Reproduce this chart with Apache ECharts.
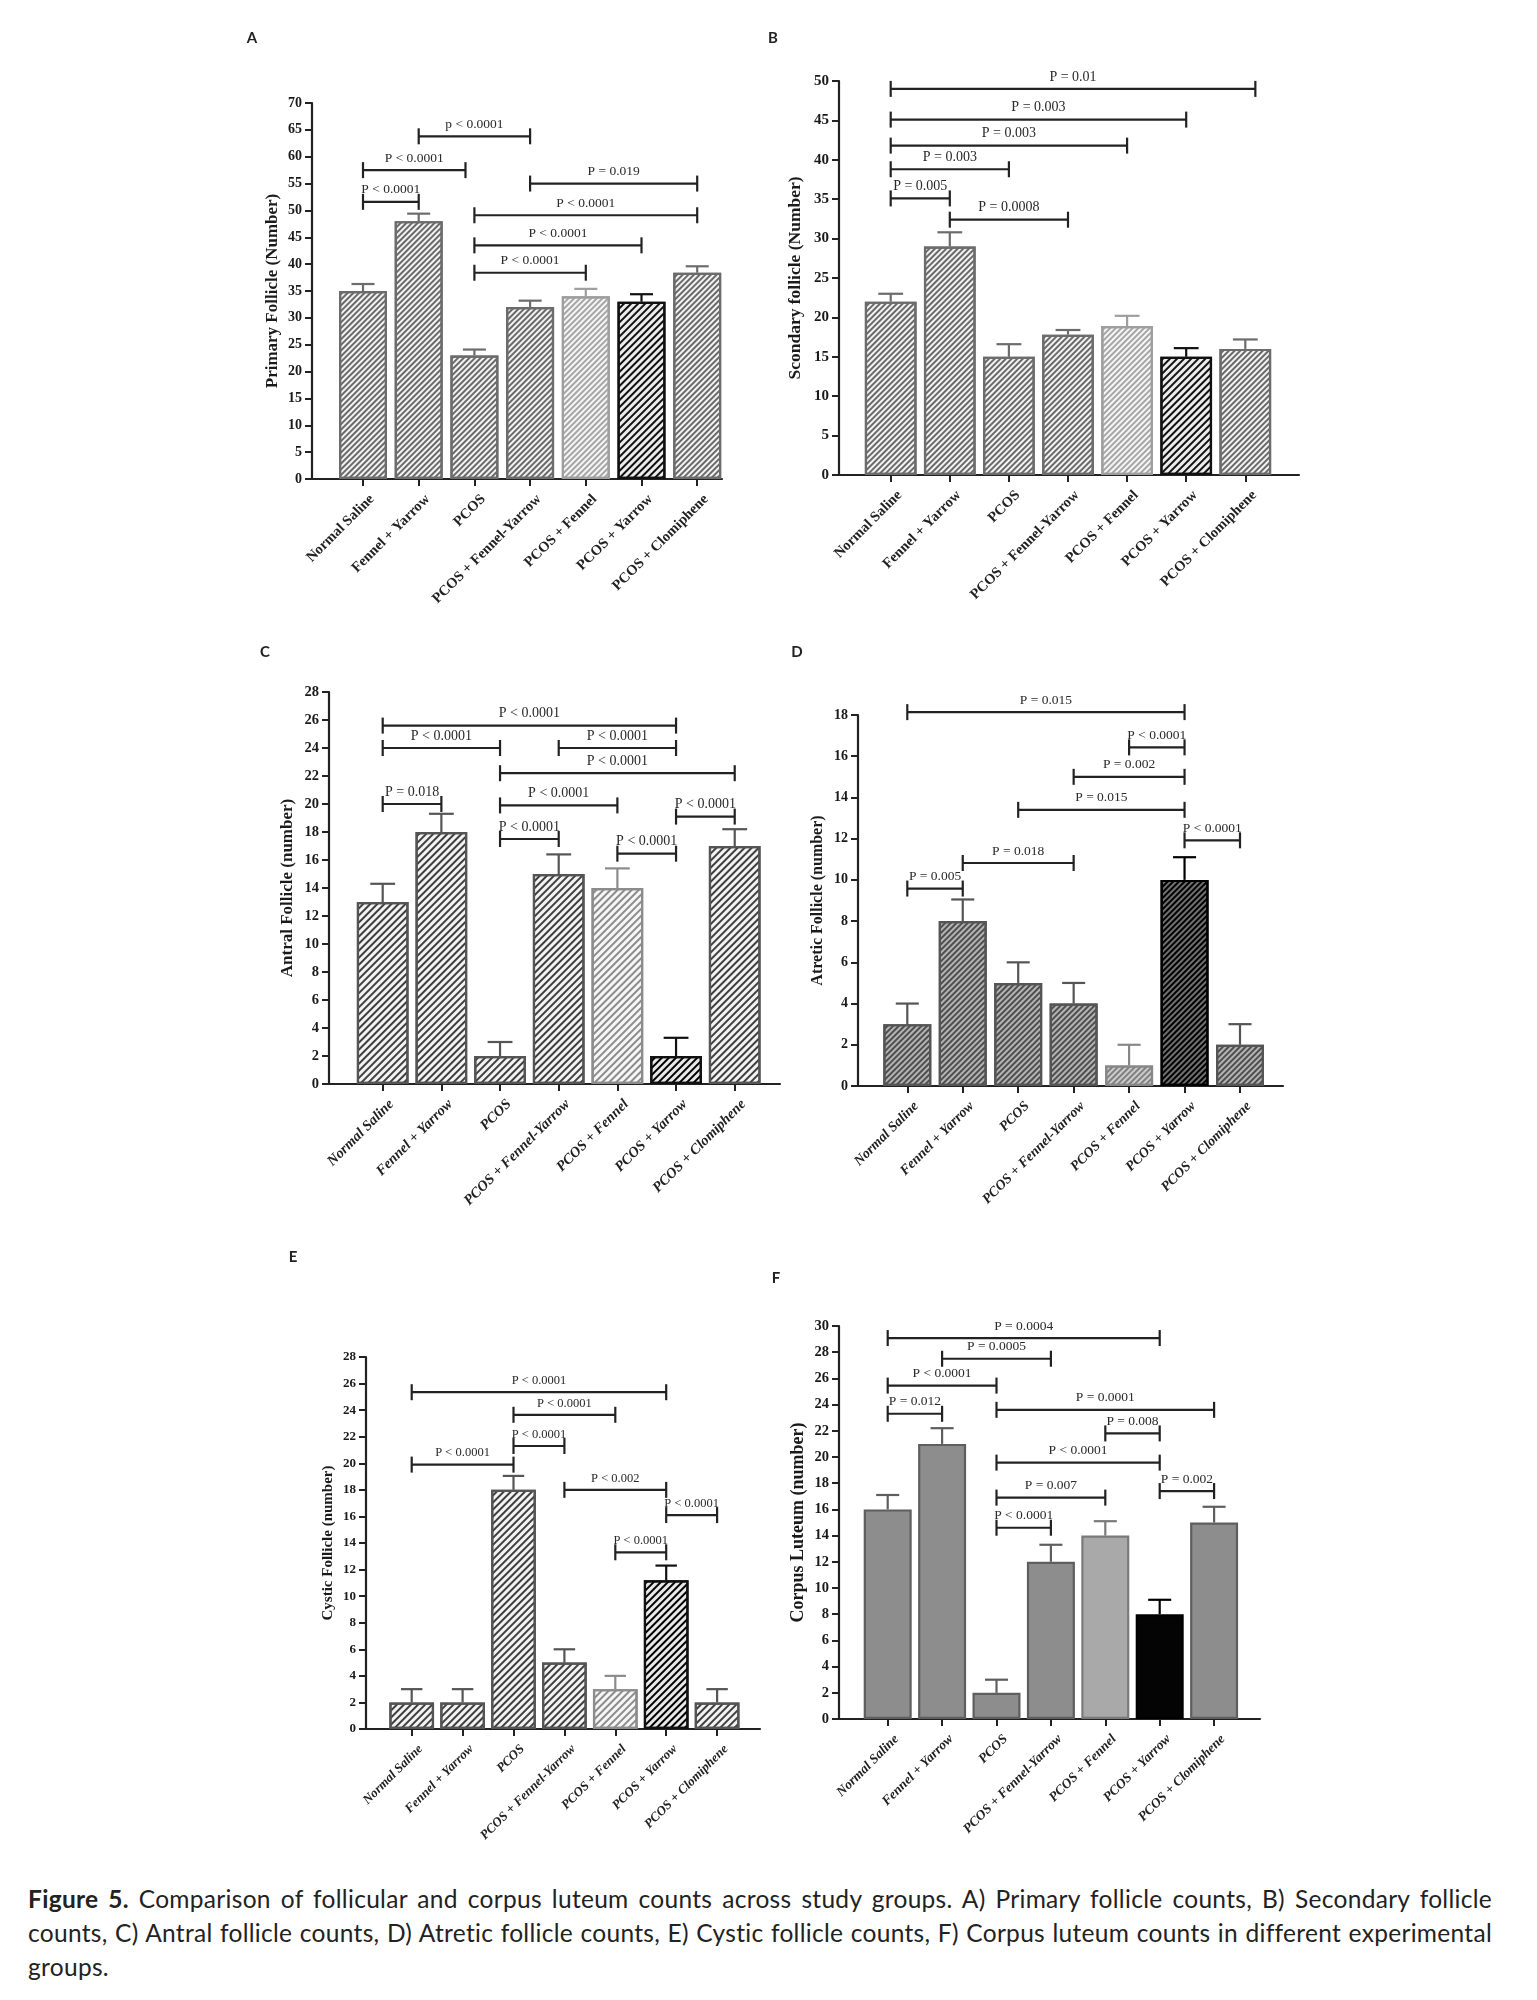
<!DOCTYPE html>
<html><head><meta charset="utf-8">
<script src="https://cdn.jsdelivr.net/npm/echarts@6/dist/echarts.min.js"></script>
<style>
html,body{margin:0;padding:0;background:#fff;}
#chart{position:absolute;left:0;top:0;width:1537px;height:1860px;}
#caption{position:absolute;left:28px;top:1882px;width:1464px;font-family:Lato,'Open Sans',sans-serif;font-size:24.5px;letter-spacing:0.3px;line-height:34px;color:#222;white-space:nowrap;}
#caption .j{display:block;text-align:justify;text-align-last:justify;}
</style></head><body>
<div id="chart"></div>
<div id="caption"><span class="j"><b>Figure 5.</b> Comparison of follicular and corpus luteum counts across study groups. A) Primary follicle counts, B) Secondary follicle</span><span class="j">counts, C) Antral follicle counts, D) Atretic follicle counts, E) Cystic follicle counts, F) Corpus luteum counts in different experimental</span><span>groups.</span></div>
<script>
// ---------------- DATA ----------------
const groups = ['Normal Saline', 'Fennel + Yarrow', 'PCOS', 'PCOS + Fennel-Yarrow', 'PCOS + Fennel', 'PCOS + Yarrow', 'PCOS + Clomiphene'];

const primaryMean = [35, 48, 23, 32, 34, 33, 38.4];
const primarySem  = [1.3, 1.4, 1.1, 1.2, 1.4, 1.4, 1.2];
const primaryBrackets = [[1, 3, 63.8, 'p < 0.0001'], [0, 1.84, 57.5, 'P < 0.0001'], [0, 1, 51.6, 'P < 0.0001'], [3, 6, 55, 'P = 0.019'], [2, 6, 49.1, 'P < 0.0001'], [2, 5, 43.5, 'P < 0.0001'], [2, 4, 38.4, 'P < 0.0001']];

const secondaryMean = [22, 29, 15, 17.8, 18.9, 15, 16];
const secondarySem  = [1.0, 1.8, 1.6, 0.6, 1.3, 1.1, 1.2];
const secondaryBrackets = [[0, 6.17, 49, 'P = 0.01'], [0, 5, 45.1, 'P = 0.003'], [0, 4, 41.8, 'P = 0.003'], [0, 2, 38.8, 'P = 0.003'], [0, 1, 35.1, 'P = 0.005'], [1, 3, 32.4, 'P = 0.0008']];

const antralMean = [13, 18, 2, 15, 14, 2, 17];
const antralSem  = [1.3, 1.3, 1.0, 1.4, 1.4, 1.3, 1.2];
const antralBrackets = [[0, 5, 25.6, 'P < 0.0001'], [0, 2, 24, 'P < 0.0001'], [3, 5, 24, 'P < 0.0001'], [2, 6, 22.2, 'P < 0.0001'], [0, 1, 20, 'P = 0.018'], [2, 4, 19.9, 'P < 0.0001'], [5, 6, 19.1, 'P < 0.0001'], [2, 3, 17.5, 'P < 0.0001'], [4, 5, 16.45, 'P < 0.0001']];

const atreticMean = [3, 8, 5, 4, 1, 10, 2];
const atreticSem  = [1, 1.05, 1, 1, 1, 1.1, 1];
const atreticBrackets = [[0, 5, 18.14, 'P = 0.015'], [4, 5, 16.43, 'P < 0.0001'], [3, 5, 15, 'P = 0.002'], [2, 5, 13.4, 'P = 0.015'], [5, 6, 11.92, 'P < 0.0001'], [1, 3, 10.82, 'P = 0.018'], [0, 1, 9.58, 'P = 0.005']];

const cysticMean = [2, 2, 18, 5, 3, 11.2, 2];
const cysticSem  = [1, 1, 1.05, 1, 1, 1.1, 1];
const cysticBrackets = [[0, 5, 25.35, 'P < 0.0001'], [2, 4, 23.65, 'P < 0.0001'], [2, 3, 21.3, 'P < 0.0001'], [0, 2, 19.9, 'P < 0.0001'], [3, 5, 18, 'P < 0.002'], [5, 6, 16.1, 'P < 0.0001'], [4, 5, 13.3, 'P < 0.0001']];

const luteumMean = [16, 21, 2, 12, 14, 8, 15];
const luteumSem  = [1.1, 1.2, 1.0, 1.3, 1.1, 1.1, 1.2];
const luteumBrackets = [[0, 5, 29.08, 'P = 0.0004'], [1, 3, 27.5, 'P = 0.0005'], [0, 2, 25.45, 'P < 0.0001'], [2, 6, 23.6, 'P = 0.0001'], [0, 1, 23.3, 'P = 0.012'], [4, 5, 21.8, 'P = 0.008'], [2, 5, 19.57, 'P < 0.0001'], [5, 6, 17.4, 'P = 0.002'], [2, 4, 16.9, 'P = 0.007'], [2, 3, 14.6, 'P < 0.0001']];

// ---------------- STYLES / LAYOUT ----------------
const SERIF = '"Liberation Serif","Times New Roman",serif';
const SANS = 'Lato,"Open Sans",sans-serif';
const barKinds = ['m', 'm', 'm', 'm', 'l', 'd', 'm'];

const palettes = {
  A: {m: {bg: '#f3f3f3', stripe: '#6a6a6a', border: '#6c6c6c', w: 1.1, g: 1.9}, l: {bg: '#f6f6f6', stripe: '#a6a6a6', border: '#9e9e9e', w: 1.1, g: 1.9}, d: {bg: '#ececec', stripe: '#111', border: '#111', w: 1.4, g: 2.2}},
  C: {m: {bg: '#f3f3f3', stripe: '#3f3f3f', border: '#555', w: 1.2, g: 2.2}, l: {bg: '#f6f6f6', stripe: '#8c8c8c', border: '#8c8c8c', w: 1.2, g: 2.2}, d: {bg: '#e8e8e8', stripe: '#000', border: '#111', w: 1.5, g: 2.2}},
  D: {m: {bg: '#b4b4b4', stripe: '#4e4e4e', border: '#555', w: 1.1, g: 1.6}, l: {bg: '#cccccc', stripe: '#808080', border: '#888', w: 1.1, g: 1.6}, d: {bg: '#707070', stripe: '#000', border: '#000', w: 1.3, g: 1.4}},
  F: {m: {bg: '#8d8d8d', border: '#5e5e5e'}, l: {bg: '#a9a9a9', border: '#7a7a7a'}, d: {bg: '#040404', border: '#000'}}
};

const panels = [
  {key: 'A', mean: primaryMean, sem: primarySem, br: primaryBrackets, yName: 'Primary Follicle (Number)', yMax: 70, yStep: 5,
   axisX: 312, top: 103, bottom: 479, first: 363, step: 55.7, end: 722, bw: 48, pal: 'A', italic: false,
   nameGap: 31, nameSize: 17, tickSize: 14, xSize: 14.5, pSize: 13.5, letter: [252, 38]},
  {key: 'B', mean: secondaryMean, sem: secondarySem, br: secondaryBrackets, yName: 'Scondary follicle (Number)', yMax: 50, yStep: 5,
   axisX: 839, top: 81, bottom: 475, first: 890.7, step: 59.1, end: 1299, bw: 51.7, pal: 'A', italic: false,
   nameGap: 35, nameSize: 17.5, tickSize: 15, xSize: 14.5, pSize: 14, letter: [773, 38]},
  {key: 'C', mean: antralMean, sem: antralSem, br: antralBrackets, yName: 'Antral Follicle (number)', yMax: 28, yStep: 2,
   axisX: 329, top: 692, bottom: 1084, first: 382.7, step: 58.67, end: 780, bw: 51.7, pal: 'C', italic: true,
   nameGap: 33, nameSize: 17, tickSize: 14.5, xSize: 14.5, pSize: 14, letter: [265, 652]},
  {key: 'D', mean: atreticMean, sem: atreticSem, br: atreticBrackets, yName: 'Atretic Follicle (number)', yMax: 18, yStep: 2,
   axisX: 858, top: 715, bottom: 1086, first: 907.3, step: 55.45, end: 1283, bw: 48, pal: 'D', italic: true,
   nameGap: 32, nameSize: 16, tickSize: 14, xSize: 14, pSize: 13.5, letter: [797, 652]},
  {key: 'E', mean: cysticMean, sem: cysticSem, br: cysticBrackets, yName: 'Cystic Follicle (number)', yMax: 28, yStep: 2,
   axisX: 366, top: 1357, bottom: 1729, first: 411.7, step: 50.9, end: 760, bw: 44.7, pal: 'C', italic: true,
   nameGap: 30, nameSize: 15, tickSize: 13, xSize: 13, pSize: 12.5, letter: [293, 1257]},
  {key: 'F', mean: luteumMean, sem: luteumSem, br: luteumBrackets, yName: 'Corpus Luteum (number)', yMax: 30, yStep: 2,
   axisX: 839, top: 1326, bottom: 1719, first: 887.7, step: 54.4, end: 1260, bw: 48, pal: 'F', italic: true,
   nameGap: 32, nameSize: 18, tickSize: 14.5, xSize: 13.5, pSize: 13.5, letter: [776, 1278]}
];

const grid = [], xAxis = [], yAxis = [], series = [], graphic = [];

panels.forEach((p, k) => {
  const off = (p.first - p.axisX) / p.step;
  const xMax = (p.end - p.axisX) / p.step;
  const shift = 9 / p.step;
  const pos = groups.map((g, i) => off + i);
  const pal = palettes[p.pal];
  grid.push({left: p.axisX, top: p.top, width: p.end - p.axisX, height: p.bottom - p.top, containLabel: false});
  xAxis.push({
    gridIndex: k, type: 'value', min: 0, max: xMax,
    axisLine: {show: true, onZero: false, lineStyle: {color: '#222', width: 2.2}},
    axisTick: {show: true, customValues: pos, length: 7, lineStyle: {color: '#222', width: 2}},
    axisLabel: {show: true, customValues: pos.map(v => v + shift), rotate: 45, margin: 18,
      formatter: v => groups[Math.round(v - off - shift)] || '',
      fontFamily: SERIF, fontWeight: 'bold', fontStyle: p.italic ? 'italic' : 'normal', fontSize: p.xSize, color: '#222'},
    splitLine: {show: false}
  });
  yAxis.push({
    gridIndex: k, type: 'value', min: 0, max: p.yMax, interval: p.yStep,
    name: p.yName, nameLocation: 'middle', nameGap: p.nameGap,
    nameTextStyle: {fontFamily: SERIF, fontWeight: 'bold', fontSize: p.nameSize, color: '#1a1a1a'},
    axisLine: {show: true, lineStyle: {color: '#222', width: 2.2}},
    axisTick: {show: true, length: 7, lineStyle: {color: '#222', width: 2}},
    axisLabel: {margin: 10, fontFamily: SERIF, fontWeight: 'bold', fontSize: p.tickSize, color: '#1a1a1a'},
    splitLine: {show: false}
  });
  series.push({
    type: 'bar', xAxisIndex: k, yAxisIndex: k, barWidth: p.bw, animation: false, z: 2,
    data: p.mean.map((v, i) => {
      const s = pal[barKinds[i]];
      const it = {color: s.bg, borderColor: s.border, borderWidth: 2.2};
      if (s.stripe) it.decal = {symbol: 'rect', symbolSize: 1, dashArrayX: [1, 0], dashArrayY: [s.w, s.g], rotation: -Math.PI / 4, color: s.stripe};
      return {value: [pos[i], v], itemStyle: it};
    })
  });
  const capHalf = p.bw * 0.24;
  series.push({
    type: 'custom', xAxisIndex: k, yAxisIndex: k, animation: false, z: 3,
    encode: {x: 0, y: [1, 2]},
    data: p.mean.map((v, i) => [pos[i], v, v + p.sem[i]]),
    renderItem: (params, api) => {
      const a = api.coord([api.value(0), api.value(1)]);
      const b = api.coord([api.value(0), api.value(2)]);
      const col = pal[barKinds[params.dataIndex]].border;
      return {type: 'group', children: [
        {type: 'line', shape: {x1: a[0], y1: a[1], x2: b[0], y2: b[1]}, style: {stroke: col, lineWidth: 2.2}},
        {type: 'line', shape: {x1: b[0] - capHalf, y1: b[1], x2: b[0] + capHalf, y2: b[1]}, style: {stroke: col, lineWidth: 2.2}}
      ]};
    }
  });
  series.push({
    type: 'custom', xAxisIndex: k, yAxisIndex: k, animation: false, z: 4,
    encode: {x: [0, 1], y: 2},
    data: p.br.map(b => [off + b[0], off + b[1], b[2]]),
    renderItem: (params, api) => {
      const a = api.coord([api.value(0), api.value(2)]);
      const b = api.coord([api.value(1), api.value(2)]);
      const t = 8;
      const txt = p.br[params.dataIndex][3];
      return {type: 'group', children: [
        {type: 'line', shape: {x1: a[0], y1: a[1], x2: b[0], y2: b[1]}, style: {stroke: '#222', lineWidth: 2.2}},
        {type: 'line', shape: {x1: a[0], y1: a[1] - t, x2: a[0], y2: a[1] + t}, style: {stroke: '#222', lineWidth: 2.2}},
        {type: 'line', shape: {x1: b[0], y1: b[1] - t, x2: b[0], y2: b[1] + t}, style: {stroke: '#222', lineWidth: 2.2}},
        {type: 'text', x: (a[0] + b[0]) / 2, y: a[1] - 5, style: {text: txt, align: 'center', verticalAlign: 'bottom', font: p.pSize + 'px ' + SERIF, fill: '#2a2a2a'}}
      ]};
    }
  });
  graphic.push({type: 'text', x: p.letter[0], y: p.letter[1], style: {text: p.key, align: 'center', verticalAlign: 'middle', font: 'bold 15px ' + SANS, fill: '#222'}});
});

const chart = echarts.init(document.getElementById('chart'), null, {renderer: 'canvas'});
chart.setOption({animation: false, backgroundColor: '#fff', grid, xAxis, yAxis, series, graphic});
</script>
</body></html>
